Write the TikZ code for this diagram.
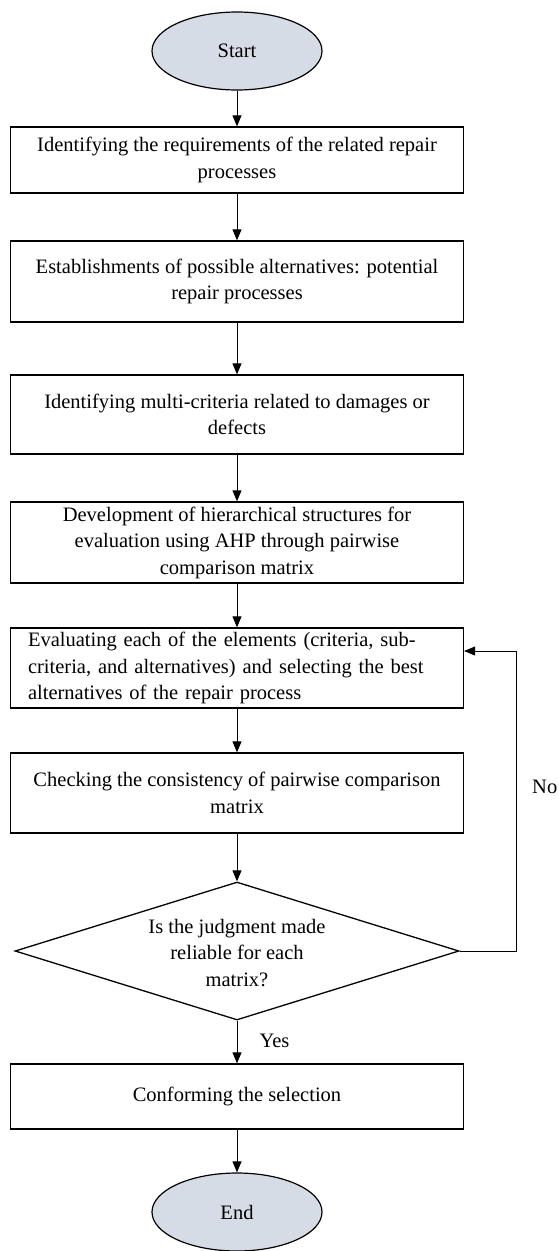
\documentclass[tikz,border=0pt]{standalone}
\usepackage{fontspec}
\setmainfont{Liberation Serif}
\usetikzlibrary{shapes.geometric,arrows.meta}
\definecolor{termfill}{HTML}{D6DCE5}
\begin{document}
\begin{tikzpicture}[x=1pt,y=-1pt,
  txt/.style={font=\fontsize{20.5}{26.5}\selectfont},
  box/.style={txt,draw,line width=1.3pt,rectangle,minimum width=453pt,inner sep=0pt,align=center},
  term/.style={txt,draw,line width=1.2pt,ellipse,fill=termfill,minimum width=170pt,minimum height=78pt,inner sep=0pt},
  dec/.style={draw,line width=1.3pt,diamond,minimum width=444pt,minimum height=138pt,inner sep=0pt},
  arr/.style={-{Triangle[length=11pt,width=9pt]},line width=0.8pt}]
\useasboundingbox (0,0) rectangle (558,1251);
\node[term] (start) at (237,51) {Start};
\node[box,minimum height=66pt] (b1) at (237,160) {Identifying the requirements of the related repair\\processes};
\node[box,minimum height=81pt] (b2) at (237,281.5) {Establishments of possible alternatives: potential\\repair processes};
\node[box,minimum height=79pt] (b3) at (237,414.5) {Identifying multi-criteria related to damages or\\defects};
\node[box,minimum height=81pt] (b4) at (237,542.5) {Development of hierarchical structures for\\evaluation using AHP through pairwise\\comparison matrix};
\node[box,minimum height=80pt,text width=418pt,align=left] (b5) at (237,668) {Evaluating each of the elements (criteria, sub-\\criteria, and alternatives) and selecting the best\\alternatives of the repair process};
\node[box,minimum height=80pt] (b6) at (237,793) {Checking the consistency of pairwise comparison\\matrix};
\node[dec] (d) at (237,951) {};
\node[txt,align=center] (dtext) at (237,953) {Is the judgment made\\reliable for each\\matrix?};
\node[box,minimum height=65pt] (b7) at (237,1096.5) {Conforming the selection};
\node[term] (end) at (237,1212) {End};
\coordinate (nx) at (516,951);
\draw[arr] (start) -- (b1);
\draw[arr] (b1) -- (b2);
\draw[arr] (b2) -- (b3);
\draw[arr] (b3) -- (b4);
\draw[arr] (b4) -- (b5);
\draw[arr] (b5) -- (b6);
\draw[arr] (b6.south) -- (d.north);
\draw[arr] (d.south) -- (b7.north);
\draw[arr] (b7) -- (end);
\draw[arr] (d.east) -- (nx) |- ([yshift=17pt]b5.east);
\node[txt,anchor=west] (yes) at (256,1041) {Yes};
\node[txt,anchor=west,inner sep=0pt] (no) at (532,787) {No};
\end{tikzpicture}
\end{document}
